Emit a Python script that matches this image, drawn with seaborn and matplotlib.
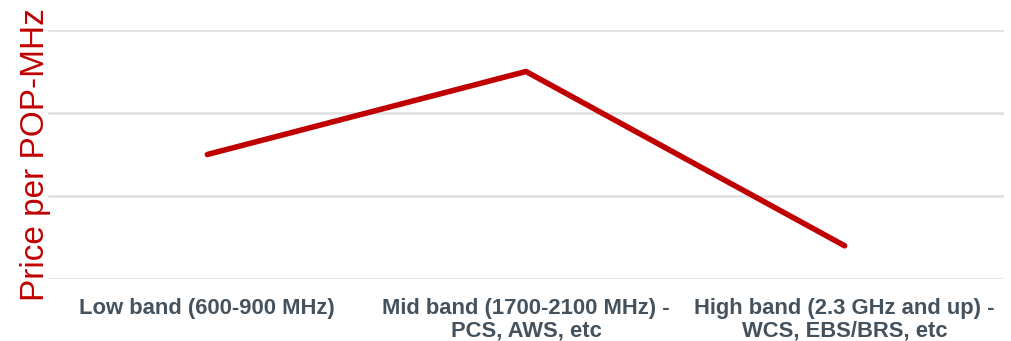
import matplotlib
matplotlib.use("Agg")
import matplotlib.pyplot as plt
import seaborn as sns
import pandas as pd

# Spectrum bands and relative price per POP-MHz
bands = [
    "Low band (600-900 MHz)",
    "Mid band (1700-2100 MHz) -\nPCS, AWS, etc",
    "High band (2.3 GHz and up) -\nWCS, EBS/BRS, etc",
]
price = [1.5, 2.5, 0.4]
y_ticks = [0, 1, 2, 3]

sns.set_theme(style="white")
plt.rcParams["font.family"] = ["Liberation Sans", "DejaVu Sans"]

df = pd.DataFrame({"band": bands, "price": price})

fig = plt.figure(figsize=(10.11, 3.41), dpi=100)
ax = fig.add_axes([48 / 1011, 1 - 279 / 341, (1004 - 48) / 1011, (279 - 30) / 341])

sns.lineplot(data=df, x="band", y="price", ax=ax, color="#C00000",
             linewidth=4.0, sort=False)

ax.set_xlim(-0.5, 2.5)
ax.set_ylim(0, 3)
ax.set_yticks(y_ticks)
ax.set_yticklabels([])
ax.tick_params(axis="y", length=0)
ax.tick_params(axis="x", length=0, pad=14)
ax.grid(axis="y", color="#DDE1E4", linewidth=1.8)
ax.set_axisbelow(True)
for s in ax.spines.values():
    s.set_visible(False)

for lbl in ax.get_xticklabels():
    lbl.set_fontweight("bold")
    lbl.set_fontsize(15.8)
    lbl.set_color("#44525E")
    lbl.set_linespacing(1.05)

ax.set_xlabel("")
ax.set_ylabel("Price per POP-MHz", fontsize=24, color="#C00000", labelpad=-6)

fig.savefig("out.png", dpi=100)
